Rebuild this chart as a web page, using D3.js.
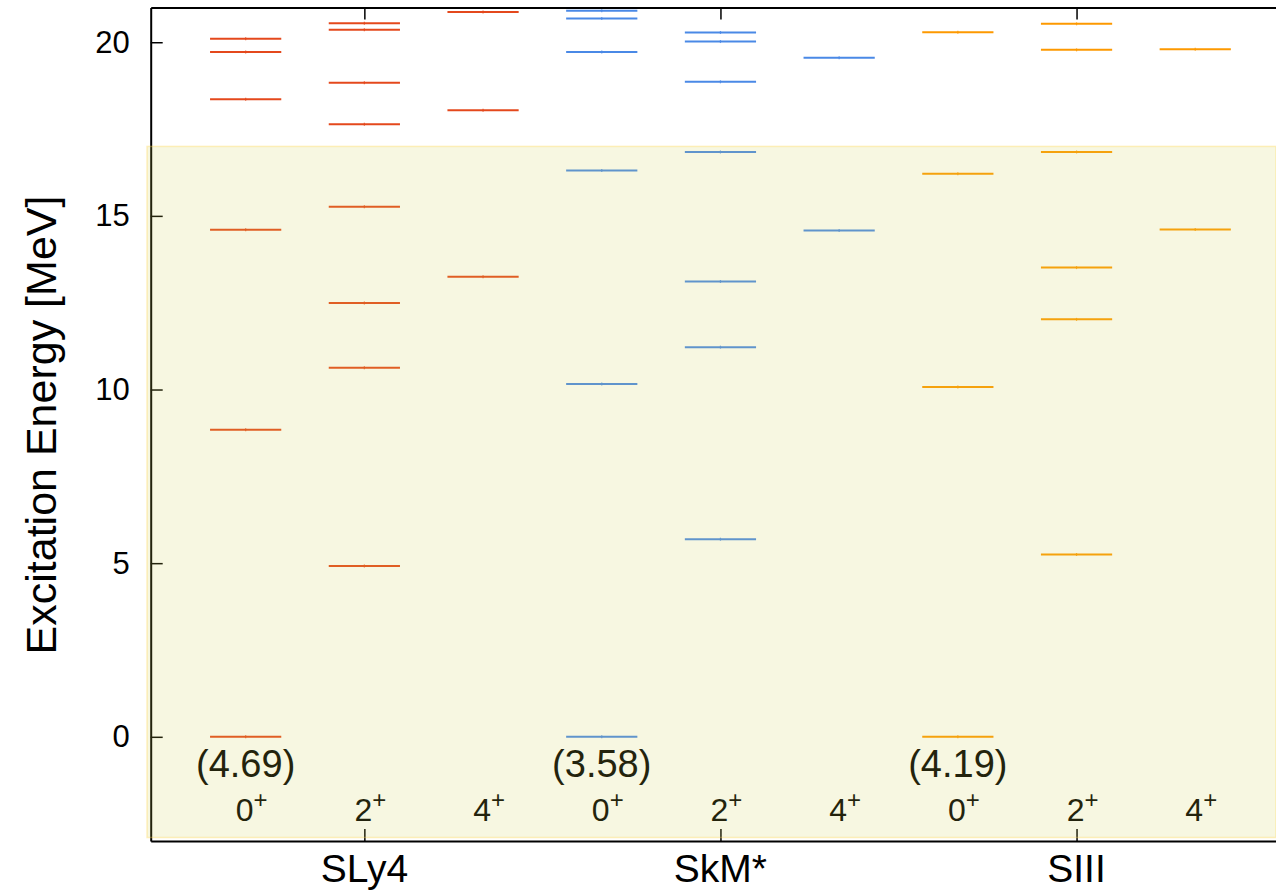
<!DOCTYPE html>
<html>
<head>
<meta charset="utf-8">
<script src="https://cdn.jsdelivr.net/npm/d3@7"></script>
<style>
  body { margin: 0; background: #fff; }
  svg { display: block; font-family: "Liberation Sans", Arial, Helvetica, sans-serif; }
</style>
</head>
<body>
<script>
// level schemes, one array per spin (0+, 2+, 4+)
const models = ["SLy4", "SkM*", "SIII"];
const spins = ["0", "2", "4"];
const colors = ["#e4481c", "#4a89e6", "#fd9900"];
const groundState = [4.69, 3.58, 4.19];

const sly4 = [
  [0, 8.84, 14.60, 18.36, 19.72, 20.10],
  [4.92, 10.63, 12.49, 15.26, 17.64, 18.83, 20.36, 20.55],
  [13.25, 18.04, 20.87]
];
const skm = [
  [0, 10.16, 16.31, 19.72, 20.68, 20.91],
  [5.69, 11.22, 13.11, 16.84, 18.86, 20.02, 20.28],
  [14.58, 19.55]
];
const siii = [
  [0, 10.07, 16.21, 20.29],
  [5.25, 12.02, 13.51, 16.84, 19.78, 20.53],
  [14.61, 19.80]
];
const levelSets = [sly4, skm, siii];

const yTicks = [0, 5, 10, 15, 20];
const shadeTop = 17;

const width = 1276, height = 893;
const svg = d3.select("body").append("svg")
  .attr("width", width).attr("height", height);

const x = d3.scaleLinear().domain([0.2, 9.8]).range([150.7, 1290.2]);
const y = d3.scaleLinear().domain([-3, 21]).range([841, 7.5]);
const halfW = 0.3;

// flatten into marks
const levels = [];
levelSets.forEach((set, m) => {
  set.forEach((vals, s) => {
    vals.forEach(v => levels.push({m, s, pos: 1 + m * 3 + s, e: v}));
  });
});

const g = svg.append("g");

g.selectAll(".level").data(levels).enter().append("line")
  .attr("class", "level")
  .attr("x1", d => x(d.pos - halfW)).attr("x2", d => x(d.pos + halfW))
  .attr("y1", d => y(d.e)).attr("y2", d => y(d.e))
  .attr("stroke", d => colors[d.m]).attr("stroke-width", 2);

// small centre mark
g.selectAll(".mark").data(levels).enter().append("line")
  .attr("x1", d => x(d.pos)).attr("x2", d => x(d.pos))
  .attr("y1", d => y(d.e) - 1.5).attr("y2", d => y(d.e) + 1.5)
  .attr("stroke", d => colors[d.m]).attr("stroke-width", 1.2).attr("opacity", 0.8);

// ground-state energies
g.selectAll(".gs").data(groundState).enter().append("text")
  .attr("x", (d, i) => x(1 + i * 3))
  .attr("y", 777)
  .attr("text-anchor", "middle")
  .attr("font-size", 38)
  .attr("fill", "#000")
  .text(d => `(${d.toFixed(2)})`);

// spin labels
const spinLabels = [];
models.forEach((m, i) => spins.forEach((s, j) => spinLabels.push({pos: 1 + i * 3 + j, s})));
const sl = g.selectAll(".spin").data(spinLabels).enter().append("text")
  .attr("x", d => x(d.pos) + 6)
  .attr("y", 821)
  .attr("text-anchor", "middle")
  .attr("font-size", 32)
  .attr("fill", "#000");
sl.append("tspan").text(d => d.s);
sl.append("tspan").attr("dy", -13).attr("font-size", 24).text("+");

// axes
const xAxisPos = models.map((m, i) => 2 + i * 3);
g.append("g").attr("transform", `translate(0,${y(-3)})`)
  .call(d3.axisBottom(x).tickValues(xAxisPos).tickSizeInner(-12).tickSizeOuter(0).tickFormat(""))
  .call(a => a.select(".domain").attr("stroke-width", 2))
  .call(a => a.selectAll(".tick line").attr("stroke-width", 1.5));
g.append("g").attr("transform", `translate(0,${y(21)})`)
  .call(d3.axisTop(x).tickValues(xAxisPos).tickSizeInner(-12).tickSizeOuter(0).tickFormat(""))
  .call(a => a.select(".domain").attr("stroke-width", 2))
  .call(a => a.selectAll(".tick line").attr("stroke-width", 1.5));
g.append("g").attr("transform", `translate(${x(0.2)},0)`)
  .call(d3.axisLeft(y).tickValues(yTicks).tickSizeInner(-12).tickSizeOuter(0).tickPadding(21))
  .call(a => a.select(".domain").attr("stroke-width", 2))
  .call(a => a.selectAll(".tick line").attr("stroke-width", 1.5))
  .call(a => a.selectAll(".tick text").attr("font-size", 31).attr("font-family", null).attr("fill", "#000"));

// model names under axis
g.selectAll(".model").data(models).enter().append("text")
  .attr("x", (d, i) => x(2 + i * 3))
  .attr("y", 882)
  .attr("text-anchor", "middle")
  .attr("font-size", 39)
  .text(d => d);

// y title
g.append("text")
  .attr("transform", `translate(56,425) rotate(-90)`)
  .attr("text-anchor", "middle")
  .attr("font-size", 43)
  .text("Excitation Energy [MeV]");

// translucent band on top
svg.append("rect")
  .attr("x", 147).attr("y", y(shadeTop))
  .attr("width", width - 147).attr("height", y(-2.9) - y(shadeTop))
  .attr("fill", "rgb(205,205,75)").attr("fill-opacity", 0.17)
  .attr("stroke", "rgb(255,215,80)").attr("stroke-opacity", 0.35).attr("stroke-width", 1.5);
</script>
</body>
</html>
